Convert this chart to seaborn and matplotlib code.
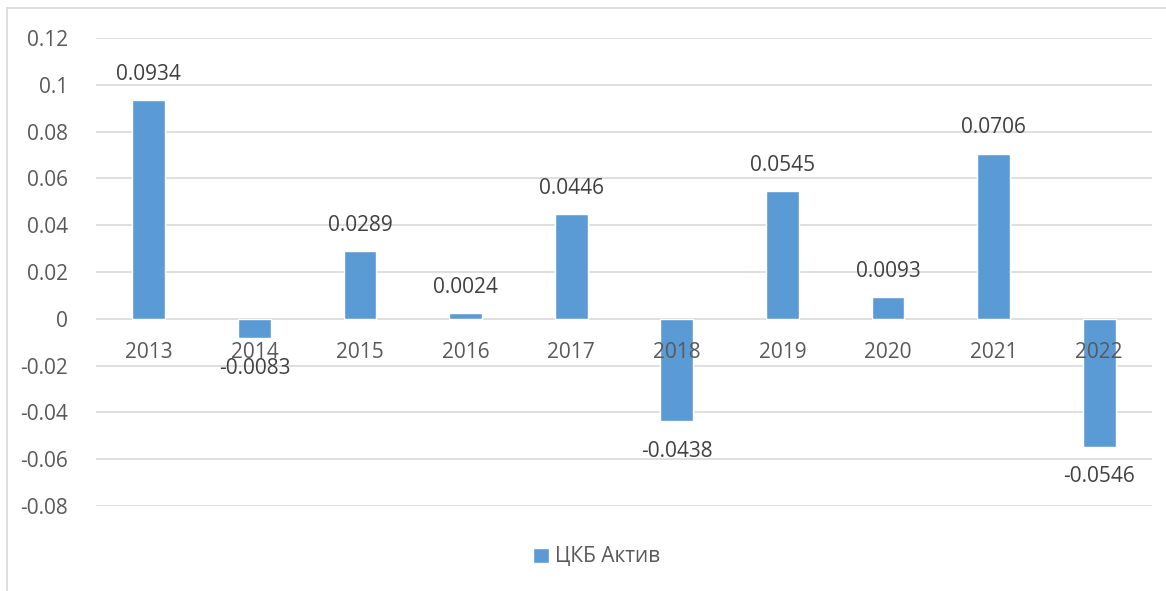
import matplotlib
matplotlib.use("Agg")
import matplotlib.pyplot as plt
import seaborn as sns
import pandas as pd
from matplotlib.lines import Line2D

years = ["2013", "2014", "2015", "2016", "2017", "2018", "2019", "2020", "2021", "2022"]
values = [0.0934, -0.0083, 0.0289, 0.0024, 0.0446, -0.0438, 0.0545, 0.0093, 0.0706, -0.0546]
value_labels = ["0.0934", "-0.0083", "0.0289", "0.0024", "0.0446", "-0.0438", "0.0545", "0.0093", "0.0706", "-0.0546"]
y_ticks = [0.12, 0.1, 0.08, 0.06, 0.04, 0.02, 0, -0.02, -0.04, -0.06, -0.08]
y_tick_labels = ["0.12", "0.1", "0.08", "0.06", "0.04", "0.02", "0", "-0.02", "-0.04", "-0.06", "-0.08"]
series_name = "ЦКБ Актив"

sns.set_theme(style="white")
plt.rcParams["font.family"] = ["Open Sans", "DejaVu Sans"]

W, H = 1166, 591
FS = 15
fig = plt.figure(figsize=(W / 100, H / 100), dpi=100)
ax = fig.add_axes([96 / W, (H - 506) / H, (1152 - 96) / W, (506 - 38) / H])

df = pd.DataFrame({"year": years, "value": values})
sns.barplot(data=df, x="year", y="value", color="#5B9BD5", saturation=1,
            width=0.31, label=series_name, ax=ax, zorder=3)

ax.set_ylim(-0.08, 0.12)
ax.set_xlim(-0.5, len(years) - 0.5)
ax.set_yticks(y_ticks)
ax.set_yticklabels(y_tick_labels, fontsize=FS, color="#595959")
ax.tick_params(axis="y", length=0, pad=20)
ax.set_xticks([])
ax.set_xlabel("")
ax.set_ylabel("")
for s in ax.spines.values():
    s.set_visible(False)
for t in y_ticks:
    ax.axhline(t, color="#D9D9D9", lw=1.2, zorder=1)

# category labels just below zero line
for i, yr in enumerate(years):
    ax.annotate(yr, xy=(i, 0), xytext=(0, -24), textcoords="offset points",
                ha="center", va="center", fontsize=FS, color="#595959", zorder=4)

bars = ax.containers[0]
pos_labels = [lab if v >= 0 else "" for lab, v in zip(value_labels, values)]
neg_labels = [lab if v < 0 else "" for lab, v in zip(value_labels, values)]
ax.bar_label(bars, labels=pos_labels, padding=11, fontsize=FS, color="#404040", zorder=5)
ax.bar_label(bars, labels=neg_labels, padding=14, fontsize=FS, color="#404040", zorder=5)

fig.legend(handles=bars[:1], labels=[series_name],
           loc="center", bbox_to_anchor=(597 / W, 1 - 557 / H), frameon=False,
           fontsize=FS, handlelength=0.75, handleheight=0.75, handletextpad=0.3,
           labelcolor="#595959")
if ax.get_legend() is not None:
    ax.get_legend().remove()

# outer chart border
fig.add_artist(Line2D([7 / W, 7 / W], [0, 1 - 8 / H], transform=fig.transFigure,
                      color="#D9D9D9", lw=1.2))
fig.add_artist(Line2D([7 / W, 1], [1 - 8 / H, 1 - 8 / H], transform=fig.transFigure,
                      color="#D9D9D9", lw=1.2))

fig.savefig("out.png", dpi=100)
